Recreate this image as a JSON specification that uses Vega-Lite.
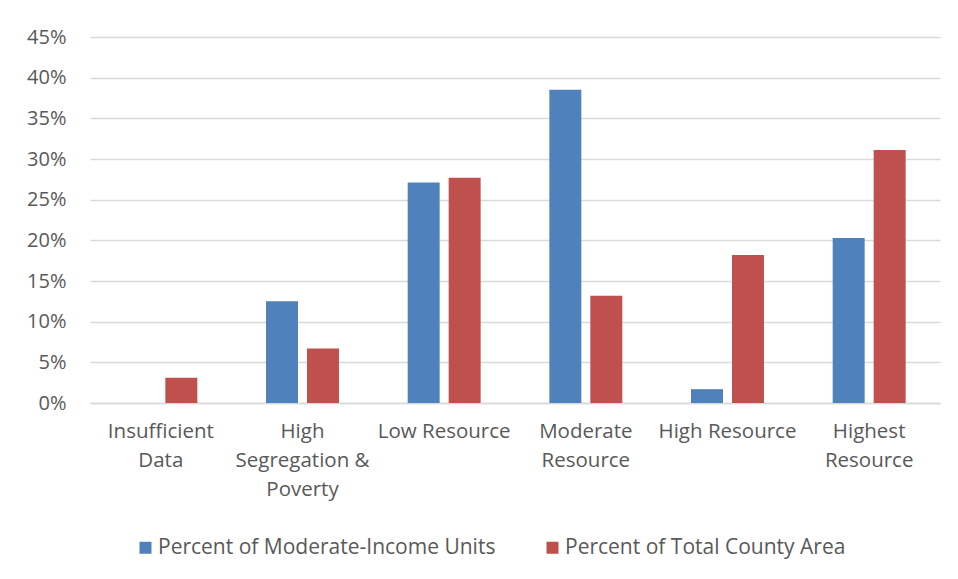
{
  "$schema": "https://vega.github.io/schema/vega-lite/v6.json",
  "width": 850,
  "height": 366,
  "autosize": {"type": "none"},
  "padding": {"left": 90, "top": 37, "right": 18, "bottom": 176},
  "background": "white",
  "data": {
    "values": [
      {"cat": "Insufficient Data", "series": "Percent of Moderate-Income Units", "value": 0},
      {"cat": "Insufficient Data", "series": "Percent of Total County Area", "value": 0.031},
      {"cat": "High Segregation & Poverty", "series": "Percent of Moderate-Income Units", "value": 0.125},
      {"cat": "High Segregation & Poverty", "series": "Percent of Total County Area", "value": 0.067},
      {"cat": "Low Resource", "series": "Percent of Moderate-Income Units", "value": 0.271},
      {"cat": "Low Resource", "series": "Percent of Total County Area", "value": 0.277},
      {"cat": "Moderate Resource", "series": "Percent of Moderate-Income Units", "value": 0.385},
      {"cat": "Moderate Resource", "series": "Percent of Total County Area", "value": 0.132},
      {"cat": "High Resource", "series": "Percent of Moderate-Income Units", "value": 0.017},
      {"cat": "High Resource", "series": "Percent of Total County Area", "value": 0.182},
      {"cat": "Highest Resource", "series": "Percent of Moderate-Income Units", "value": 0.203},
      {"cat": "Highest Resource", "series": "Percent of Total County Area", "value": 0.311}
    ]
  },
  "mark": {"type": "bar"},
  "encoding": {
    "x": {
      "field": "cat",
      "type": "nominal",
      "sort": null,
      "title": null,
      "scale": {"paddingInner": 0.485, "paddingOuter": 0.2425},
      "axis": {
        "labelAngle": 0,
        "labelExpr": "datum.value == 'Insufficient Data' ? ['Insufficient', 'Data'] : datum.value == 'High Segregation & Poverty' ? ['High', 'Segregation &', 'Poverty'] : datum.value == 'Highest Resource' ? ['Highest', 'Resource'] : datum.value == 'Moderate Resource' ? ['Moderate', 'Resource'] : datum.value",
        "labelFont": "Open Sans",
        "labelFontSize": 20.5,
        "labelColor": "#595959",
        "labelLineHeight": 29,
        "labelBaseline": "top",
        "labelPadding": 18,
        "ticks": false,
        "domainColor": "#D9D9D9",
        "domainWidth": 1.5,
        "labelLimit": 300
      }
    },
    "xOffset": {
      "field": "series",
      "type": "nominal",
      "scale": {"paddingInner": 0.22, "paddingOuter": 0}
    },
    "y": {
      "field": "value",
      "type": "quantitative",
      "title": null,
      "scale": {"domain": [0, 0.45]},
      "axis": {
        "values": [0, 0.05, 0.1, 0.15, 0.2, 0.25, 0.3, 0.35, 0.4, 0.45],
        "format": ".0%",
        "labelFont": "Open Sans",
        "labelFontSize": 20,
        "labelColor": "#595959",
        "labelPadding": 24,
        "ticks": false,
        "domain": false,
        "gridColor": "#D9D9D9",
        "gridWidth": 1.5
      }
    },
    "color": {
      "field": "series",
      "type": "nominal",
      "title": null,
      "scale": {
        "domain": ["Percent of Moderate-Income Units", "Percent of Total County Area"],
        "range": ["#4F81BD", "#C0504D"]
      },
      "legend": {
        "orient": "none",
        "legendX": 45,
        "legendY": 500,
        "padding": 0,
        "direction": "horizontal",
        "symbolType": "square",
        "symbolSize": 144,
        "symbolStrokeWidth": 0,
        "labelFont": "Open Sans",
        "labelFontSize": 21,
        "labelColor": "#595959",
        "labelLimit": 400,
        "labelOffset": 2,
        "columnPadding": 46
      }
    }
  },
  "config": {
    "view": {"stroke": null}
  }
}
